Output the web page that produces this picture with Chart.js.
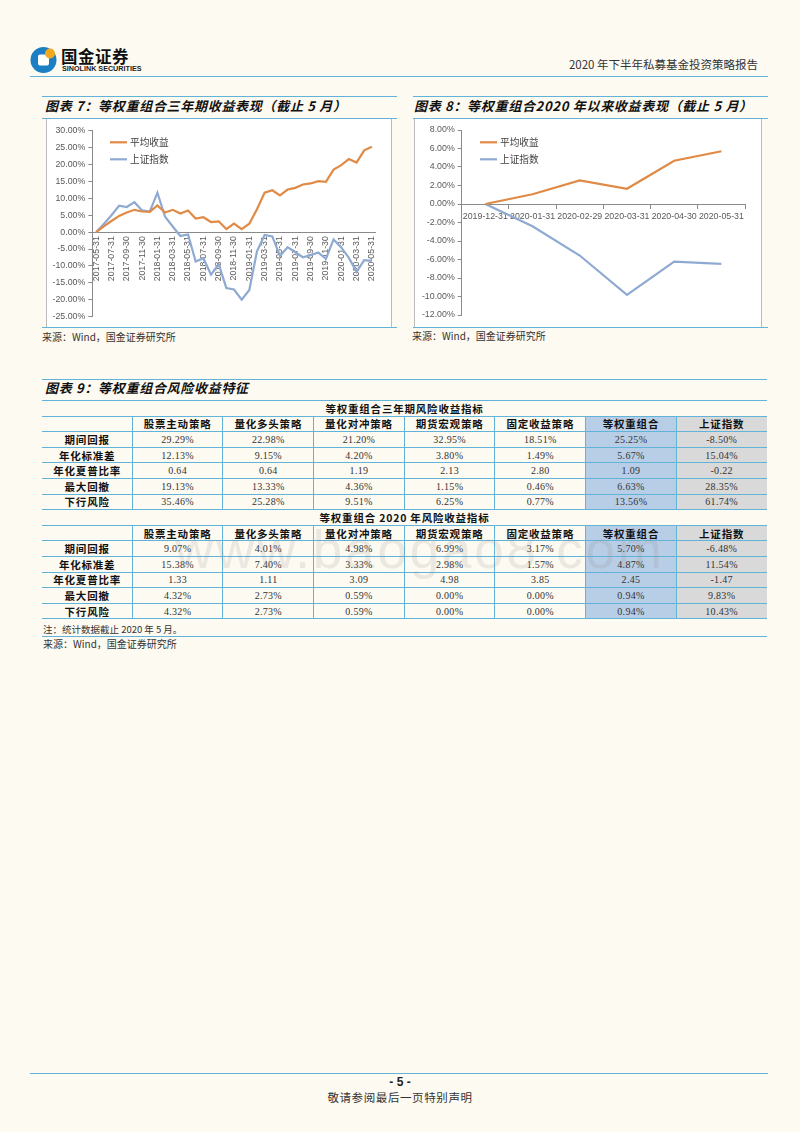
<!DOCTYPE html>
<html>
<head>
<meta charset="utf-8">
<script src="https://cdn.jsdelivr.net/npm/chart.js@4.4.1/dist/chart.umd.min.js"></script>
<style>
body { margin: 0; background: #fdfaf1; }
#page { position: relative; width: 800px; height: 1132px; overflow: hidden; font-family: "Noto Sans CJK SC", sans-serif; color: #222; }
.hline { position: absolute; height: 0; border-top: 1.5px solid #62b3d8; }
.title { position: absolute; font-size: 13px; font-weight: bold; font-style: italic; letter-spacing: 0.7px; line-height: 16px; white-space: nowrap; color: #111; }
.src { position: absolute; font-size: 10px; line-height: 12px; white-space: nowrap; color: #333; }
.frame { position: absolute; background: #fff; border-left: 1px solid #bcbcbc; border-right: 1px solid #bcbcbc; box-sizing: border-box; }
.box { position: absolute; }
.cell { position: absolute; text-align: center; white-space: nowrap; box-sizing: border-box; }
.hd { font-weight: bold; font-size: 10.5px; letter-spacing: 0.8px; color: #111; }
.num { font-family: "Liberation Serif", serif; font-size: 10px; letter-spacing: 0.3px; color: #333; }
.vline { position: absolute; width: 0; border-left: 1.5px solid #62b3d8; }
</style>
</head>
<body>
<div id="page">
  <!-- header -->
  <svg class="box" style="left:30px;top:46px" width="28" height="28" viewBox="0 0 28 28">
    <circle cx="13.5" cy="14" r="13" fill="#1c7fc3"/>
    <rect x="8" y="8.5" width="11" height="11" rx="2" fill="#fff"/>
    <circle cx="20" cy="7.5" r="5" fill="#f3a81e"/>
  </svg>
  <div class="box" style="left:61px;top:46px;font-size:16.5px;font-weight:bold;line-height:20px;letter-spacing:0.5px;color:#111">国金证券</div>
  <div class="box" style="left:62px;top:64px;font-family:'Liberation Sans';font-size:7.2px;font-weight:bold;line-height:9px;color:#222">SINOLINK SECURITIES</div>
  <div class="box" style="right:42px;top:57px;font-size:11.5px;line-height:15px;color:#333;white-space:nowrap">2020 年下半年私募基金投资策略报告</div>
  <div class="hline" style="left:30px;width:738px;top:76px"></div>

  <!-- chart 7 -->
  <div class="hline" style="left:42px;width:355px;top:96px"></div>
  <div class="title" style="left:45px;top:98px">图表 7：等权重组合三年期收益表现（截止 5 月）</div>
  <div class="hline" style="left:42px;width:355px;top:117.5px"></div>
  <div class="frame" style="left:46px;top:119px;width:346px;height:208px">
    <canvas id="chart7"></canvas>
  </div>
  <div class="hline" style="left:42px;width:355px;top:327px"></div>
  <div class="src" style="left:42px;top:331px">来源：Wind，国金证券研究所</div>

  <!-- chart 8 -->
  <div class="hline" style="left:413px;width:355px;top:96px"></div>
  <div class="title" style="left:414px;top:98px">图表 8：等权重组合2020 年以来收益表现（截止 5 月）</div>
  <div class="hline" style="left:413px;width:355px;top:117.5px"></div>
  <div class="frame" style="left:414px;top:119px;width:348px;height:208px">
    <canvas id="chart8"></canvas>
  </div>
  <div class="hline" style="left:413px;width:355px;top:327px"></div>
  <div class="src" style="left:412px;top:330px">来源：Wind，国金证券研究所</div>

  <!-- table 9 -->
  <div class="hline" style="left:42px;width:725px;top:379px"></div>
  <div class="title" style="left:45px;top:380px">图表 9：等权重组合风险收益特征</div>
  <div id="table9"></div>
  <div class="src" style="left:43px;top:623px;font-size:9.5px">注：统计数据截止 2020 年 5 月。</div>
  <div class="hline" style="left:42px;width:725px;top:636px"></div>
  <div class="src" style="left:43px;top:638px">来源：Wind，国金证券研究所</div>
  <div class="box" style="left:175px;top:523px;font-family:'Liberation Sans';font-size:53px;line-height:53px;letter-spacing:2.8px;color:rgba(140,140,140,0.17);white-space:nowrap;pointer-events:none">www.baogao8.com</div>

  <!-- footer -->
  <div class="hline" style="left:30px;width:738px;top:1073px"></div>
  <div class="box" style="left:0;width:800px;top:1075px;text-align:center;font-family:'Liberation Sans';font-weight:bold;font-size:12px;line-height:14px">- 5 -</div>
  <div class="box" style="left:0;width:800px;top:1090px;text-align:center;font-size:11.5px;letter-spacing:0.6px;line-height:14px;color:#333">敬请参阅最后一页特别声明</div>
</div>

<script>
// chart 7: monthly, 2017-05 .. 2020-05
var months3y = [
    '2017-05-31', '2017-06-30', '2017-07-31', '2017-08-31', '2017-09-30', '2017-10-31',
    '2017-11-30', '2017-12-31', '2018-01-31', '2018-02-28', '2018-03-31', '2018-04-30',
    '2018-05-31', '2018-06-30', '2018-07-31', '2018-08-31', '2018-09-30', '2018-10-31',
    '2018-11-30', '2018-12-31', '2019-01-31', '2019-02-28', '2019-03-31', '2019-04-30',
    '2019-05-31', '2019-06-30', '2019-07-31', '2019-08-31', '2019-09-30', '2019-10-31',
    '2019-11-30', '2019-12-31', '2020-01-31', '2020-02-29', '2020-03-31', '2020-04-30',
    '2020-05-31'
];
var avgReturn3y = [
    0, 1.7, 3.3, 4.8, 5.8, 6.6, 6.1, 6.0, 7.9, 5.8, 6.6, 5.5,
    6.4, 4.0, 4.4, 3.0, 3.2, 0.9, 2.5, 0.9, 2.5, 6.8, 11.7, 12.4,
    10.9, 12.6, 13.1, 14.1, 14.4, 15.1, 14.9, 18.5, 19.8, 21.6, 20.6, 24.2,
    25.25
];
var sseIndex3y = [
    0, 2.41, 5.00, 7.82, 7.44, 8.86, 6.42, 6.09, 11.67, 4.56, 1.66, -1.12,
    -0.70, -8.66, -7.72, -12.57, -9.49, -16.50, -16.97, -19.99, -17.09, -5.65, -0.85, -1.25,
    -7.01, -4.44, -5.93, -7.41, -6.80, -6.03, -7.87, -2.15, -4.51, -7.60, -11.77, -8.25,
    -8.50
];

// chart 8: 2020 year to date
var months2020 = ['2019-12-31', '2020-01-31', '2020-02-29', '2020-03-31', '2020-04-30', '2020-05-31'];
var avgReturn2020 = [0, 1.05, 2.55, 1.65, 4.68, 5.70];
var sseIndex2020 = [0, -2.41, -5.57, -9.83, -6.22, -6.48];

var seriesNames = ['平均收益', '上证指数'];
var seriesColors = ['#e08a45', '#8faad2'];

// table 9
var tableCols = ['股票主动策略', '量化多头策略', '量化对冲策略', '期货宏观策略', '固定收益策略', '等权重组合', '上证指数'];
var rowNames = ['期间回报', '年化标准差', '年化夏普比率', '最大回撤', '下行风险'];
var section3yTitle = '等权重组合三年期风险收益指标';
var section3y = [
    ['29.29%', '22.98%', '21.20%', '32.95%', '18.51%', '25.25%', '-8.50%'],
    ['12.13%', '9.15%', '4.20%', '3.80%', '1.49%', '5.67%', '15.04%'],
    ['0.64', '0.64', '1.19', '2.13', '2.80', '1.09', '-0.22'],
    ['19.13%', '13.33%', '4.36%', '1.15%', '0.46%', '6.63%', '28.35%'],
    ['35.46%', '25.28%', '9.51%', '6.25%', '0.77%', '13.56%', '61.74%']
];
var section2020Title = '等权重组合 2020 年风险收益指标';
var section2020 = [
    ['9.07%', '4.01%', '4.98%', '6.99%', '3.17%', '5.70%', '-6.48%'],
    ['15.38%', '7.40%', '3.33%', '2.98%', '1.57%', '4.87%', '11.54%'],
    ['1.33', '1.11', '3.09', '4.98', '3.85', '2.45', '-1.47'],
    ['4.32%', '2.73%', '0.59%', '0.00%', '0.00%', '0.94%', '9.83%'],
    ['4.32%', '2.73%', '0.59%', '0.00%', '0.00%', '0.94%', '10.43%']
];


Chart.defaults.font.family = '"Liberation Sans", Arial, sans-serif';
Chart.defaults.color = '#595959';
Chart.defaults.animation = false;

// legend drawn inside the plot, top left, as in the report
var insideLegend = {
    id: 'insideLegend',
    afterDraw: function (chart, args, opts) {
        var ctx = chart.ctx;
        ctx.save();
        chart.data.datasets.forEach(function (ds, i) {
            var y = opts.y + i * opts.gap;
            ctx.strokeStyle = ds.borderColor;
            ctx.lineWidth = 2.2;
            ctx.beginPath();
            ctx.moveTo(opts.x, y);
            ctx.lineTo(opts.x + 17, y);
            ctx.stroke();
            ctx.fillStyle = '#404040';
            ctx.font = '9.7px "Noto Sans CJK SC"';
            ctx.textBaseline = 'middle';
            ctx.fillText(ds.label, opts.x + 20, y);
        });
        ctx.restore();
    }
};

function createLineChart(canvasId, labels, values, yOpts, xOpts, layout) {
    var datasets = values.map(function (v, i) {
        return {
            label: seriesNames[i],
            data: v,
            borderColor: seriesColors[i],
            backgroundColor: seriesColors[i],
            borderWidth: 2.2,
            pointRadius: 0,
            tension: 0
        };
    });
    var config = {
        type: 'line',
        data: { labels: labels, datasets: datasets },
        options: {
            responsive: true,
            maintainAspectRatio: false,
            layout: { padding: layout.padding },
            plugins: {
                legend: { display: false },
                tooltip: { enabled: false },
                insideLegend: layout.legend
            },
            scales: {
                x: {
                    type: 'category',
                    position: { y: 0 },
                    offset: true,
                    grid: xOpts.grid,
                    border: { display: true, color: '#8a8a8a', width: 1 },
                    ticks: xOpts.ticks,
                    afterFit: function (s) { s.height = 0; }
                },
                y: {
                    min: yOpts.min,
                    max: yOpts.max,
                    grid: { display: true, drawOnChartArea: false, drawTicks: true, tickLength: 4, color: '#8a8a8a' },
                    border: { display: true, color: '#8a8a8a', width: 1 },
                    ticks: {
                        stepSize: yOpts.step,
                        padding: 3,
                        font: { size: 8.8 },
                        callback: function (v) { return v.toFixed(2) + '%'; }
                    },
                    afterFit: function (s) { s.width = layout.yWidth; }
                }
            }
        },
        plugins: [insideLegend]
    };
    var ctx = document.getElementById(canvasId).getContext('2d');
    return new Chart(ctx, config);
}

createLineChart('chart7', months3y, [avgReturn3y, sseIndex3y],
    { min: -25, max: 30, step: 5 },
    {
        grid: { display: true, drawOnChartArea: false, drawTicks: false },
        ticks: {
            autoSkip: false,
            minRotation: 90,
            maxRotation: 90,
            padding: 4,
            font: { size: 8.8 },
            callback: function (v, idx) { return idx % 2 === 0 ? months3y[idx] : ''; }
        }
    },
    { padding: { left: 4, top: 11.7, right: 15.3, bottom: 10.3 }, yWidth: 41.3, legend: { x: 63, y: 23.3, gap: 17 } }
);

createLineChart('chart8', months2020, [avgReturn2020, sseIndex2020],
    { min: -12, max: 8, step: 2 },
    {
        grid: { display: true, drawOnChartArea: false, drawTicks: true, tickLength: 4, offset: true, color: '#8a8a8a' },
        ticks: { autoSkip: false, maxRotation: 0, padding: 3, font: { size: 8.8 } }
    },
    { padding: { left: 4, top: 11, right: 16, bottom: 12 }, yWidth: 42.7, legend: { x: 65, y: 23.3, gap: 17 } }
);


// table built from the arrays above
var tbl = document.getElementById('table9');
var tableTop = 400.7, rowH = 15.6, tableLeft = 42, tableW = 725, labelW = 90.3, colW = 90.67;
var fills = { 5: '#b8cde6', 6: '#d9d9d9' };

function addDiv(cls, style, text) {
    var d = document.createElement('div');
    d.className = cls;
    d.setAttribute('style', style);
    if (text !== undefined) d.textContent = text;
    tbl.appendChild(d);
}

function buildSection(startRow, title, rows) {
    var top0 = tableTop + startRow * rowH;
    var bodyTop = top0 + rowH;
    var bodyH = rowH * (rows.length + 1);
    // column fills
    Object.keys(fills).forEach(function (c) {
        addDiv('cell', 'left:' + (tableLeft + labelW + c * colW) + 'px;top:' + bodyTop + 'px;width:' + colW + 'px;height:' + bodyH + 'px;background:' + fills[c]);
    });
    addDiv('cell hd', 'left:' + tableLeft + 'px;top:' + top0 + 'px;width:' + tableW + 'px;height:' + rowH + 'px;line-height:' + rowH + 'px', title);
    tableCols.forEach(function (name, c) {
        addDiv('cell hd', 'left:' + (tableLeft + labelW + c * colW) + 'px;top:' + bodyTop + 'px;width:' + colW + 'px;line-height:' + rowH + 'px', name);
    });
    rows.forEach(function (vals, r) {
        var y = bodyTop + (r + 1) * rowH;
        addDiv('cell hd', 'left:' + tableLeft + 'px;top:' + y + 'px;width:' + labelW + 'px;line-height:' + rowH + 'px', rowNames[r]);
        vals.forEach(function (v, c) {
            addDiv('cell num', 'left:' + (tableLeft + labelW + c * colW) + 'px;top:' + y + 'px;width:' + colW + 'px;line-height:' + rowH + 'px', v);
        });
    });
    // horizontal rules
    for (var i = 0; i <= rows.length + 2; i++) {
        addDiv('hline', 'left:' + tableLeft + 'px;width:' + tableW + 'px;top:' + (top0 + i * rowH - 0.75) + 'px');
    }
    // vertical rules
    for (var c = 0; c < tableCols.length; c++) {
        addDiv('vline', 'left:' + (tableLeft + labelW + c * colW - 0.75) + 'px;top:' + bodyTop + 'px;height:' + bodyH + 'px');
    }
}

buildSection(0, section3yTitle, section3y);
buildSection(7, section2020Title, section2020);
</script>
</body>
</html>
